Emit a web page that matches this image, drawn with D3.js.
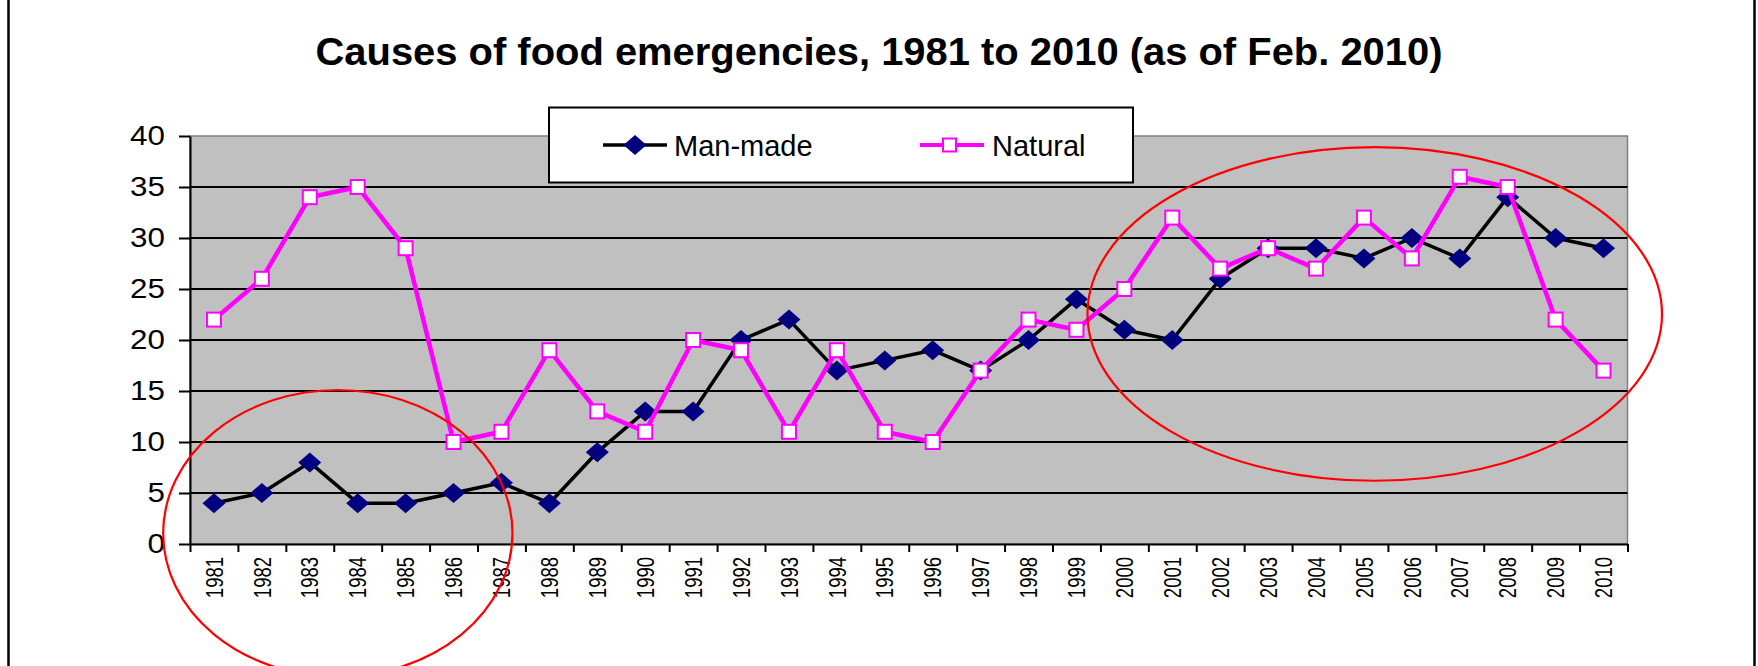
<!DOCTYPE html>
<html>
<head>
<meta charset="utf-8">
<script src="https://cdn.jsdelivr.net/npm/d3@7"></script>
<style>
    body { margin: 0; background: #fff; }
    svg { display: block; font-family: "Liberation Sans", Arial, sans-serif; }
</style>
</head>
<body>
<svg id="svgContent" width="1758" height="666"></svg>
<script>
// chart data
const years = d3.range(1981, 2011).map(String)
const manMade = [4, 5, 8, 4, 4, 5, 6, 4, 9, 13, 13, 20, 22, 17, 18, 19, 17, 20, 24, 21, 20, 26, 29, 29, 28, 30, 28, 34, 30, 29]
const natural = [22, 26, 34, 35, 29, 10, 11, 19, 13, 11, 20, 19, 11, 19, 11, 10, 17, 22, 21, 25, 32, 27, 29, 27, 32, 28, 36, 35, 22, 17]
const yTicks = [0, 5, 10, 15, 20, 25, 30, 35, 40]
const seriesNames = ['Man-made', 'Natural']
const titleText = 'Causes of food emergencies, 1981 to 2010 (as of Feb. 2010)'

// red hand-drawn circles, bounds in category index / value units
const circles = [
    { i0: -0.56, i1: 6.73, v0: -13.0, v1: 15.1 },
    { i0: 18.73, i1: 30.72, v0: 6.2, v1: 38.9 }
]

const svg = d3.select('#svgContent')
const width = +svg.attr('width')
const height = +svg.attr('height')

const plot = { left: 190, right: 1627.5, top: 136, bottom: 544 }

const x = d3.scaleBand().domain(years).range([plot.left, plot.right])
const xIdx = d3.scaleLinear().domain([0, years.length]).range([plot.left, plot.right])
const y = d3.scaleLinear().domain([0, 40]).range([plot.bottom, plot.top])
const cx = d => x(d) + x.bandwidth() / 2

// outer frame
svg.append('rect')
    .attr('x', 8.5).attr('y', -10)
    .attr('width', 1746).attr('height', height + 20)
    .attr('fill', 'none')
    .attr('stroke', '#000')
    .attr('stroke-width', 2.5)

// title
svg.append('text')
    .attr('x', width / 2)
    .attr('y', 65)
    .attr('text-anchor', 'middle')
    .attr('textLength', 1127)
    .attr('lengthAdjust', 'spacingAndGlyphs')
    .style('font-size', '38px')
    .style('font-weight', 'bold')
    .text(titleText)

// plot background
svg.append('rect')
    .attr('x', plot.left).attr('y', plot.top)
    .attr('width', plot.right - plot.left)
    .attr('height', plot.bottom - plot.top)
    .attr('fill', '#c0c0c0')
    .attr('stroke', '#808080')
    .attr('stroke-width', 1.5)

// gridlines
svg.append('g')
    .selectAll('line')
    .data(yTicks.filter(t => t > 0 && t < 40))
    .join('line')
    .attr('x1', plot.left).attr('x2', plot.right)
    .attr('y1', d => y(d)).attr('y2', d => y(d))
    .attr('stroke', '#000')
    .attr('stroke-width', 1.8)

// y axis
const yAxis = svg.append('g')
    .attr('transform', `translate(${plot.left},0)`)
    .call(d3.axisLeft(y).tickValues(yTicks).tickSize(11).tickPadding(14).tickSizeOuter(0))
yAxis.select('.domain').attr('stroke', '#000').attr('stroke-width', 2)
yAxis.selectAll('.tick line').attr('stroke', '#000').attr('stroke-width', 2)
// labels are a little wider in the original, stretch them
yAxis.selectAll('.tick text')
    .attr('x', 0)
    .attr('transform', 'translate(-25,0) scale(1.12,1)')
    .style('font-size', '28px')
    .style('font-family', '"Liberation Sans", Arial, sans-serif')
    .attr('fill', '#000')

// x axis: ticks between categories
const xTickAxis = svg.append('g')
    .attr('transform', `translate(0,${plot.bottom})`)
    .call(d3.axisBottom(xIdx).ticks(years.length).tickFormat('').tickSize(8).tickSizeOuter(0))
xTickAxis.select('.domain').attr('stroke', '#000').attr('stroke-width', 2)
xTickAxis.selectAll('.tick line').attr('stroke', '#000').attr('stroke-width', 2)

// x labels, rotated
svg.append('g')
    .selectAll('text')
    .data(years)
    .join('text')
    .attr('transform', d => `translate(${cx(d)},${plot.bottom + 13}) rotate(-90) scale(1,1.3)`)
    .attr('text-anchor', 'end')
    .attr('dy', '0.36em')
    .style('font-size', '18.5px')
    .text(d => d)

// lines
const line = d3.line().x((d, i) => cx(years[i])).y(d => y(d))

// Man-made series
svg.append('path')
    .datum(manMade)
    .attr('d', line)
    .attr('fill', 'none')
    .attr('stroke', '#000')
    .attr('stroke-width', 3.5)
    .attr('stroke-linejoin', 'round')

const diamond = 'M0,-10L11.5,0L0,10L-11.5,0Z'
svg.append('g')
    .selectAll('path')
    .data(manMade)
    .join('path')
    .attr('transform', (d, i) => `translate(${cx(years[i])},${y(d)})`)
    .attr('d', diamond)
    .attr('fill', '#000080')

// Natural series
svg.append('path')
    .datum(natural)
    .attr('d', line)
    .attr('fill', 'none')
    .attr('stroke', '#ff00ff')
    .attr('stroke-width', 4.5)
    .attr('stroke-linejoin', 'round')

svg.append('g')
    .selectAll('rect')
    .data(natural)
    .join('rect')
    .attr('x', (d, i) => cx(years[i]) - 7)
    .attr('y', d => y(d) - 7)
    .attr('width', 14).attr('height', 14)
    .attr('fill', '#fff')
    .attr('stroke', '#ff00ff')
    .attr('stroke-width', 2)

// legend
const legend = svg.append('g')
legend.append('rect')
    .attr('x', 549).attr('y', 107.5)
    .attr('width', 584).attr('height', 75)
    .attr('fill', '#fff')
    .attr('stroke', '#000')
    .attr('stroke-width', 2)

const legendItems = legend.selectAll('.item')
    .data(seriesNames)
    .join('g')
    .attr('class', 'item')
    .attr('transform', (d, i) => `translate(${[603, 920][i]},145)`)

legendItems.append('line')
    .attr('x1', 0).attr('x2', 64)
    .attr('stroke', (d, i) => i === 0 ? '#000' : '#ff00ff')
    .attr('stroke-width', (d, i) => i === 0 ? 3.5 : 4)

legendItems.filter((d, i) => i === 0)
    .append('path')
    .attr('transform', 'translate(32,0)')
    .attr('d', diamond)
    .attr('fill', '#000080')

legendItems.filter((d, i) => i === 1)
    .append('rect')
    .attr('x', 29.5 - 6.5).attr('y', -6.5)
    .attr('width', 13).attr('height', 13)
    .attr('fill', '#fff')
    .attr('stroke', '#ff00ff')
    .attr('stroke-width', 2)

legendItems.append('text')
    .attr('x', (d, i) => i === 0 ? 71 : 72)
    .attr('y', 10.5)
    .style('font-size', '29px')
    .text(d => d)

// red circles drawn over the chart
svg.append('g')
    .selectAll('ellipse')
    .data(circles)
    .join('ellipse')
    .attr('cx', d => (xIdx(d.i0) + xIdx(d.i1)) / 2)
    .attr('cy', d => (y(d.v0) + y(d.v1)) / 2)
    .attr('rx', d => (xIdx(d.i1) - xIdx(d.i0)) / 2)
    .attr('ry', d => (y(d.v0) - y(d.v1)) / 2)
    .attr('fill', 'none')
    .attr('stroke', '#ff0000')
    .attr('stroke-width', 2.2)
</script>
</body>
</html>
